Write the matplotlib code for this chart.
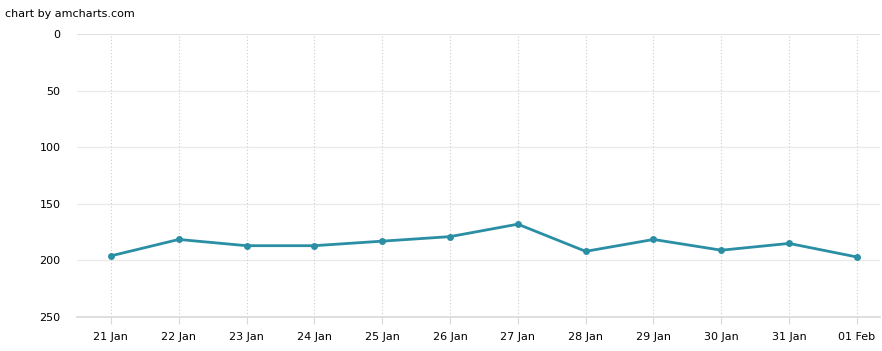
import matplotlib
matplotlib.use("Agg")
import matplotlib.pyplot as plt

dates = ["21 Jan", "22 Jan", "23 Jan", "24 Jan", "25 Jan", "26 Jan",
         "27 Jan", "28 Jan", "29 Jan", "30 Jan", "31 Jan", "01 Feb"]
values = [196, 181.5, 187, 187, 183, 179, 168, 192, 181.5, 191, 185, 197]
y_ticks = [0, 50, 100, 150, 200, 250]

W, H = 882, 351
fig = plt.figure(figsize=(W / 100, H / 100), dpi=100)
left, right, top, bottom = 77, 880, 34, 317
ax = fig.add_axes([left / W, 1 - bottom / H, (right - left) / W, (bottom - top) / H])

x = list(range(len(dates)))
ax.plot(x, values, color="#2a8ea5", linewidth=2, marker="o", markersize=5,
        markeredgewidth=0, zorder=3, clip_on=False)

ax.set_ylim(250, 0)
ax.set_xlim(-0.5, 11.34)
ax.set_yticks(y_ticks)
ax.set_xticks(x)
ax.set_xticklabels(dates)

for s in ["top", "right", "left"]:
    ax.spines[s].set_visible(False)
ax.spines["bottom"].set_color("#d9d9d9")
ax.spines["bottom"].set_linewidth(1.2)

for yv in y_ticks:
    ax.axhline(yv, color="#ebebeb" if yv not in (0,) else "#dddddd",
               linewidth=1.0 if yv != 0 else 1.3, zorder=1)
for xv in x:
    ax.axvline(xv, color="#cccccc", linewidth=0.8, linestyle=(0, (1, 2)), zorder=1)

ax.tick_params(axis="y", length=0, pad=12, labelsize=8, labelcolor="#000000")
ax.tick_params(axis="x", length=5, color="#d9d9d9", pad=6, labelsize=8, labelcolor="#000000")

fig.text(5 / W, 1 - 14 / H, "chart by amcharts.com", fontsize=8, color="#000000",
         ha="left", va="center")

fig.savefig("out.png", dpi=100)
